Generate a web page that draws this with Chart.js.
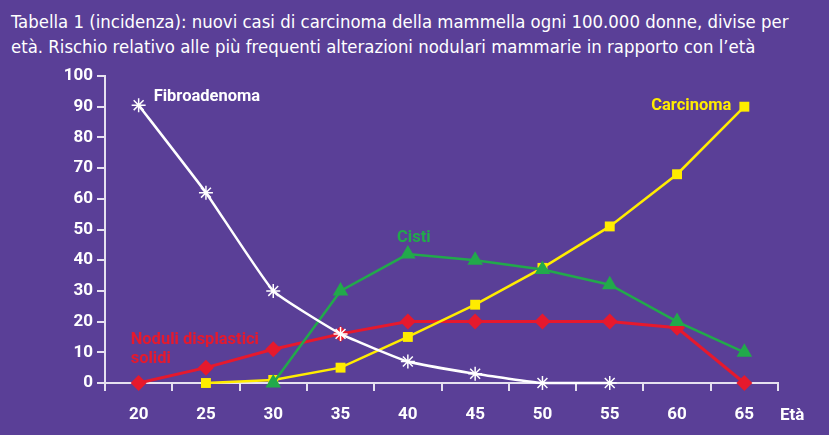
<!DOCTYPE html>
<html>
<head>
<meta charset="utf-8">
<script src="https://cdn.jsdelivr.net/npm/chart.js@4.4.0/dist/chart.umd.min.js"></script>
<style>
  html, body { margin: 0; padding: 0; background: #5a3f97; }
  #wrap { position: relative; width: 829px; height: 435px; }
  #title {
    position: absolute; left: 11px; top: 9px;
    color: #ffffff; font-family: "DejaVu Sans Condensed", "DejaVu Sans", sans-serif;
    font-size: 18.4px; line-height: 25px; white-space: nowrap;
  }
  canvas { position: absolute; left: 0; top: 0; }
</style>
</head>
<body>
<div id="wrap">
  <div id="title">Tabella 1 (incidenza): nuovi casi di carcinoma della mammella ogni 100.000 donne, divise per<br>età. Rischio relativo alle più frequenti alterazioni nodulari mammarie in rapporto con l’età</div>
  <canvas id="chart" width="829" height="435"></canvas>
</div>
<script>
const ages = ['20', '25', '30', '35', '40', '45', '50', '55', '60', '65'];
const fibroadenoma = [90.5, 62, 30, 16, 7, 3, 0, 0, null, null];
const cisti = [null, null, 0, 30, 42, 40, 37, 32, 20, 10];
const carcinoma = [null, 0, 1, 5, 15, 25.5, 37.5, 51, 68, 90];
const noduli = [0, 5, 11, 16, 20, 20, 20, 20, 18, 0];
const yTicks = [0, 10, 20, 30, 40, 50, 60, 70, 80, 90, 100];

const AXIS = '#e6e1f0';
const WHITE = '#ffffff';
const GREEN = '#22a94b';
const YELLOW = '#ffec00';
const RED = '#e6192d';
const FONT = 'Roboto, "DejaVu Sans", sans-serif';

// series names written next to the lines, plus the axis name
const seriesLabels = {
    id: 'seriesLabels',
    afterDatasetsDraw(chart) {
        const { ctx, scales: { x, y }, chartArea } = chart;
        ctx.save();
        ctx.font = 'bold 16.5px ' + FONT;
        ctx.textBaseline = 'middle';

        ctx.fillStyle = WHITE;
        ctx.textAlign = 'left';
        ctx.fillText('Fibroadenoma', x.getPixelForValue(0) + 15, y.getPixelForValue(fibroadenoma[0]) - 8);

        ctx.fillStyle = YELLOW;
        ctx.textAlign = 'right';
        ctx.fillText('Carcinoma', x.getPixelForValue(9) - 13, y.getPixelForValue(carcinoma[9]) - 1);

        ctx.fillStyle = GREEN;
        ctx.textAlign = 'center';
        ctx.fillText('Cisti', x.getPixelForValue(4) + 6, y.getPixelForValue(cisti[4]) - 16);

        ctx.fillStyle = RED;
        ctx.textAlign = 'left';
        ctx.fillText('Noduli displastici', x.getPixelForValue(0) - 8, y.getPixelForValue(noduli[0]) - 43);
        ctx.fillText('solidi', x.getPixelForValue(0) - 8, y.getPixelForValue(noduli[0]) - 24);

        ctx.fillStyle = WHITE;
        ctx.font = 'bold 17px ' + FONT;
        ctx.fillText('Età', chartArea.right + 2, 416);
        ctx.restore();
    }
};

new Chart(document.getElementById('chart'), {
    type: 'line',
    data: {
        labels: ages,
        datasets: [
            {
                label: 'Fibroadenoma',
                data: fibroadenoma,
                borderColor: WHITE,
                backgroundColor: WHITE,
                borderWidth: 2.5,
                tension: 0.12,
                pointStyle: 'star',
                pointRadius: 7,
                pointBorderWidth: 1.5
            },
            {
                label: 'Cisti',
                data: cisti,
                borderColor: GREEN,
                backgroundColor: GREEN,
                borderWidth: 2.5,
                pointStyle: 'triangle',
                pointRadius: 9,
                pointBorderWidth: 0
            },
            {
                label: 'Carcinoma',
                data: carcinoma,
                borderColor: YELLOW,
                backgroundColor: YELLOW,
                borderWidth: 2.5,
                pointStyle: 'rect',
                pointRadius: 7,
                pointBorderWidth: 0
            },
            {
                label: 'Noduli displastici solidi',
                data: noduli,
                borderColor: RED,
                backgroundColor: RED,
                borderWidth: 3,
                pointStyle: 'rectRot',
                pointRadius: 8,
                pointBorderWidth: 0
            }
        ]
    },
    options: {
        responsive: false,
        animation: false,
        clip: false,
        layout: { padding: { top: 76, right: 51, bottom: 0, left: 0 } },
        plugins: {
            legend: { display: false },
            tooltip: { enabled: false }
        },
        scales: {
            x: {
                offset: true,
                grid: {
                    offset: true,
                    drawOnChartArea: false,
                    drawTicks: true,
                    tickLength: 8,
                    color: AXIS,
                    lineWidth: 2
                },
                border: { color: AXIS, width: 2 },
                ticks: {
                    color: WHITE,
                    font: { family: FONT, size: 17, weight: 'bold' },
                    padding: 14,
                    maxRotation: 0
                },
                afterFit(scale) { scale.height = 52; }
            },
            y: {
                min: 0,
                max: 100,
                afterBuildTicks(scale) { scale.ticks = yTicks.map(v => ({ value: v })); },
                grid: {
                    drawOnChartArea: false,
                    drawTicks: true,
                    tickLength: 8,
                    color: AXIS,
                    lineWidth: 2
                },
                border: { color: AXIS, width: 2 },
                ticks: {
                    color: WHITE,
                    font: { family: FONT, size: 17, weight: 'bold' },
                    padding: 4
                },
                afterFit(scale) { scale.width = 105; }
            }
        }
    },
    plugins: [seriesLabels]
});
</script>
</body>
</html>
